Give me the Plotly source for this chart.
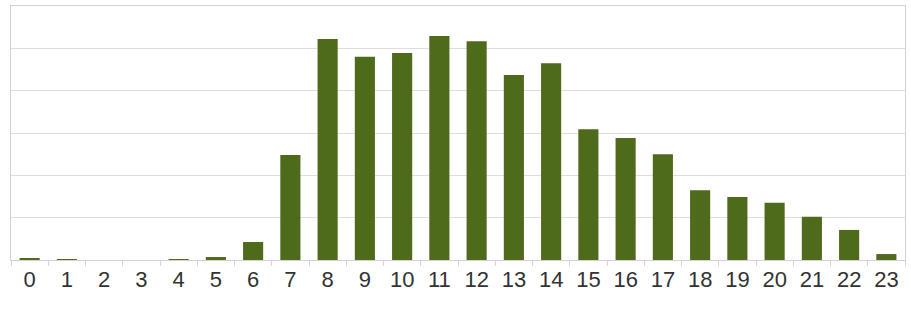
import plotly.graph_objects as go

hours = [str(h) for h in range(24)]
counts = [0.3, 0.2, 0, 0, 0.15, 0.7, 4.25, 24.8, 52.2, 48.0, 48.9, 52.9,
          51.7, 43.7, 46.5, 30.9, 28.8, 25.0, 16.5, 14.9, 13.5, 10.2, 7.1, 1.4]

fig = go.Figure(go.Bar(x=hours, y=counts, marker_color="#4E6A1B",
                       marker_line_width=0))

fig.update_layout(
    width=911, height=310,
    margin=dict(l=11, r=6, t=6, b=50, autoexpand=False),
    paper_bgcolor="white", plot_bgcolor="white",
    bargap=0.46, showlegend=False,
    font=dict(family="Liberation Sans, Arial, sans-serif", color="#333333"),
)
fig.update_xaxes(
    type="category", tickfont=dict(size=22, color="#333333"),
    ticks="outside", tickson="boundaries", ticklen=5, tickcolor="#d8d0d0",
    showline=True, linecolor="#d8d0d0", mirror=True, showgrid=False,
    automargin=False,
)
fig.update_yaxes(
    range=[0, 60], dtick=10, showticklabels=False, showgrid=True,
    gridcolor="#e4dcdc", gridwidth=1, showline=True, linecolor="#d8d0d0",
    mirror=True, ticks="", zeroline=False, automargin=False,
)

fig.write_html("out.html", config={"displayModeBar": False},
               post_script="document.body.style.margin='0';document.body.style.overflow='hidden';")
